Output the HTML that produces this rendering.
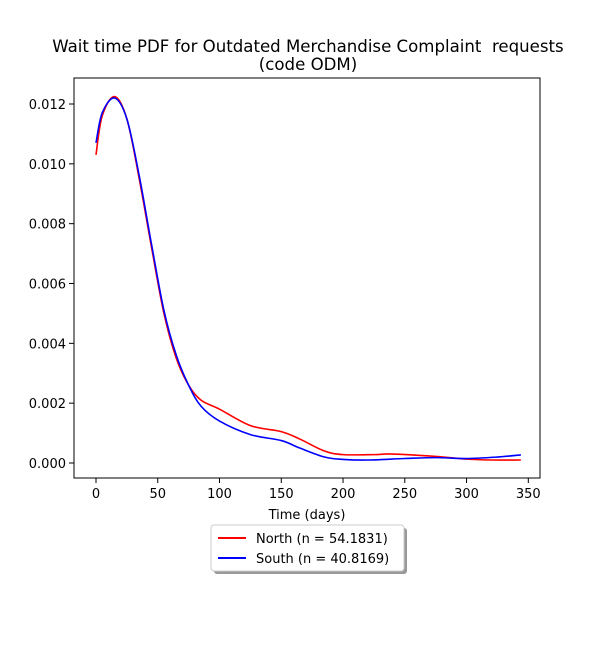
<!DOCTYPE html>
<html><head><meta charset="utf-8"><style>
body{margin:0;background:#fff;}
svg text{font-family:"DejaVu Sans","Liberation Sans",sans-serif;}
</style></head><body>
<svg id="chart" width="600" height="650" xmlns="http://www.w3.org/2000/svg">
<rect width="600" height="650" fill="#fff"/>
<text x="308" y="52" font-size="16.6" text-anchor="middle" xml:space="preserve">Wait time PDF for Outdated Merchandise Complaint&#160; requests</text>
<text x="308" y="70" font-size="16.6" text-anchor="middle">(code ODM)</text>
<g id="ticks"></g>
<g id="series"></g>
<rect x="74" y="78" width="466" height="400" fill="none" stroke="#000" stroke-width="1"/>
<text x="307" y="519" font-size="13" text-anchor="middle">Time (days)</text>
<g>
<rect x="214" y="528" width="193" height="46" rx="3" fill="#999"/>
<rect x="211" y="525" width="193" height="46" rx="3" fill="#fff" stroke="#ccc"/>
<line x1="218" y1="538" x2="246" y2="538" stroke="red" stroke-width="2"/>
<text x="256" y="543" font-size="13">North (n = 54.1831)</text>
<line x1="218" y1="558" x2="246" y2="558" stroke="blue" stroke-width="2"/>
<text x="256" y="563" font-size="13">South (n = 40.8169)</text>
</g>
</svg>
<script>
const xTicks=[0,50,100,150,200,250,300,350];
const yTicks=[0,0.002,0.004,0.006,0.008,0.010,0.012];
const northX=[0,5,15,25,35,45,55,65,75,85,100,125,150,165,185,200,225,240,275,300,320,344];
const northY=[0.0103,0.0116,0.01225,0.0115,0.0095,0.0072,0.005,0.0035,0.0026,0.0021,0.0018,0.00125,0.00105,0.0008,0.0004,0.00028,0.00028,0.0003,0.00022,0.00013,0.0001,0.0001];
const southX=[0,5,15,25,35,45,55,65,75,85,100,125,150,165,185,200,220,250,275,300,325,344];
const southY=[0.0107,0.0117,0.0122,0.0115,0.0096,0.0073,0.0051,0.0036,0.0026,0.0019,0.0014,0.00095,0.00075,0.0005,0.0002,0.00012,0.0001,0.00015,0.00018,0.00015,0.0002,0.00027];
const sx=v=>96+v*432.3/350;
const sy=v=>463-v*(359/0.012);
const NS="http://www.w3.org/2000/svg";
const tg=document.getElementById('ticks');
function mk(tag,attrs,parent){const e=document.createElementNS(NS,tag);for(const k in attrs)e.setAttribute(k,attrs[k]);parent.appendChild(e);return e;}
xTicks.forEach(t=>{
  const l=mk('line',{x1:sx(t),x2:sx(t),y1:478,y2:483,stroke:'#000'},tg);
  
  
  const tx=mk('text',{x:sx(t),y:498,'font-size':13,'text-anchor':'middle'},tg);
  tx.textContent=t;
  
  
});
yTicks.forEach(t=>{
  const l=mk('line',{x1:69,x2:74,y1:sy(t),y2:sy(t),stroke:'#000'},tg);
  
  
  const tx=mk('text',{x:66,y:sy(t)+5,'font-size':13,'text-anchor':'end'},tg);
  tx.textContent=t.toFixed(3);
  
  
});
function path(xs,ys){
  const p=xs.map((x,i)=>[sx(x),sy(ys[i])]);
  let d='M'+p[0][0]+','+p[0][1];
  for(let i=0;i<p.length-1;i++){
    const p0=p[Math.max(0,i-1)],p1=p[i],p2=p[i+1],p3=p[Math.min(p.length-1,i+2)];
    const c1=[p1[0]+(p2[0]-p0[0])/6,p1[1]+(p2[1]-p0[1])/6];
    const c2=[p2[0]-(p3[0]-p1[0])/6,p2[1]-(p3[1]-p1[1])/6];
    d+=` C${c1[0]},${c1[1]} ${c2[0]},${c2[1]} ${p2[0]},${p2[1]}`;
  }
  return d;
}
const sg=document.getElementById('series');
const n=mk('path',{d:path(northX,northY),fill:'none',stroke:'red','stroke-width':1.6},sg);


const s=mk('path',{d:path(southX,southY),fill:'none',stroke:'blue','stroke-width':1.6},sg);


</script>
</body></html>
